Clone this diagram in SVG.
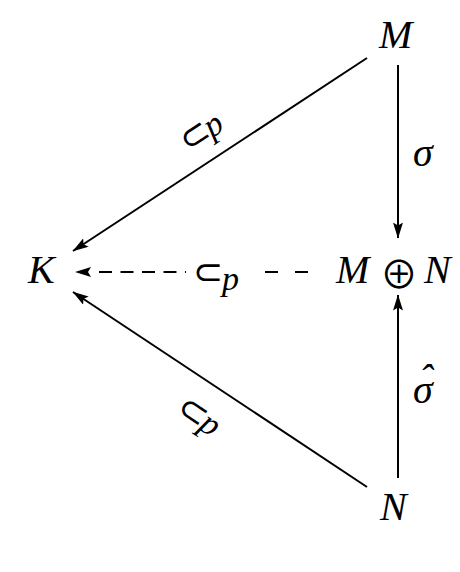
<svg xmlns="http://www.w3.org/2000/svg" width="460" height="572" viewBox="0 0 460 572">
<defs>
<marker id="ah" viewBox="0 0 16 10" refX="15.5" refY="5" markerWidth="16" markerHeight="10" orient="auto" markerUnits="userSpaceOnUse">
<path d="M0,0 L16,5 L0,10 L3,5 Z" fill="#000"/>
</marker>
<style>
.m{font-family:"Liberation Serif","DejaVu Serif",serif;font-style:italic;font-size:40px;fill:#000}
.s{font-family:"DejaVu Sans",sans-serif;font-size:36px;fill:#000}
.o{font-family:"Noto Sans CJK JP","DejaVu Sans",sans-serif;font-size:38px;fill:#000}
.p{font-family:"Liberation Serif","DejaVu Serif",serif;font-style:italic;font-size:34px;fill:#000}
.e{stroke:#000;stroke-width:2;fill:none}
.d{stroke:#000;stroke-width:2;fill:none}
</style>
</defs>
<rect width="460" height="572" fill="#fff"/>
<g id="connectors">
<line class="e" x1="398" y1="65" x2="398" y2="238" marker-end="url(#ah)"/>
<line class="e" x1="398" y1="478" x2="398" y2="295" marker-end="url(#ah)"/>
<line class="e" x1="367" y1="58" x2="73" y2="251" marker-end="url(#ah)"/>
<line class="e" x1="367" y1="487" x2="73" y2="292" marker-end="url(#ah)"/>
<path d="M91,267 L75,272 L91,277 L88,272 Z" fill="#000"/>
<line class="d" x1="99" y1="272" x2="186" y2="272" stroke-dasharray="13 8.5"/>
<line class="d" x1="265" y1="272" x2="308" y2="272" stroke-dasharray="13 17"/>
</g>
<g id="labels">
<g transform="translate(204,130) rotate(-33)"><text class="s" x="-26" y="11">⊂</text><text class="p" x="2" y="11">p</text></g>
<g transform="translate(202,418) rotate(34)"><text class="s" x="-26" y="11">⊂</text><text class="p" x="2" y="11">p</text></g>
<text class="s" x="193" y="284">⊂</text><text class="p" x="222" y="290">p</text>
<text class="m" x="413" y="166">σ</text>
<text class="m" x="413" y="403">σ</text>
<text class="m" x="426" y="392" text-anchor="middle">ˆ</text>
</g>
<g id="M"><text class="m" x="379" y="48">M</text></g>
<g id="K"><text class="m" x="28" y="283">K</text></g>
<g id="MN"><text class="m" x="336" y="283">M</text><text class="o" x="399" y="288" text-anchor="middle">⊕</text><text class="m" x="424" y="283">N</text></g>
<g id="N"><text class="m" x="380" y="520">N</text></g>
</svg>
